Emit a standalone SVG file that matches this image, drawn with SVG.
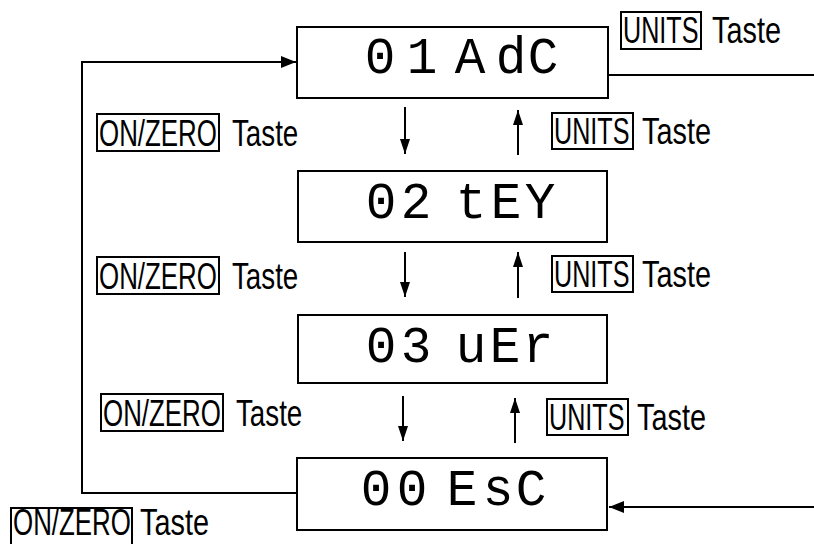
<svg xmlns="http://www.w3.org/2000/svg" width="814" height="544" viewBox="0 0 814 544">
<style>
.box{fill:#fff;stroke:#000;stroke-width:2}
.seg{font-family:"Liberation Mono","DejaVu Sans Mono",monospace;font-size:51px;fill:#000;text-anchor:middle}
.key{fill:none;stroke:#000;stroke-width:2}
.lbl{font-family:"Liberation Sans",Arial,sans-serif;font-size:37px;fill:#000}
.con{fill:none;stroke:#000;stroke-width:2}
</style>
<defs>
<marker id="ah" markerUnits="userSpaceOnUse" markerWidth="16" markerHeight="14" viewBox="0 0 16 14" refX="15" refY="7" orient="auto">
<path d="M0 1 L15 7 L0 13 Z" fill="#000"/>
</marker>
<marker id="as" markerUnits="userSpaceOnUse" markerWidth="16" markerHeight="12" viewBox="0 0 16 12" refX="15" refY="6" orient="auto">
<path d="M0 1 L15 6 L0 11 Z" fill="#000"/>
</marker>
</defs>
<rect width="814" height="544" fill="#fff"/>
<g id="connectors">
<path class="con" d="M297 493 L82 493 L82 62 L296 62" marker-end="url(#ah)"/>
<path class="con" d="M608 75 L814 75"/>
<path class="con" d="M814 507 L609 507" marker-end="url(#ah)"/>
<path class="con" d="M405 107 L405 154" marker-end="url(#as)"/>
<path class="con" d="M518 155 L518 110" marker-end="url(#as)"/>
<path class="con" d="M405 252 L405 297" marker-end="url(#as)"/>
<path class="con" d="M518 298 L518 252" marker-end="url(#as)"/>
<path class="con" d="M403 396 L403 441" marker-end="url(#as)"/>
<path class="con" d="M515 443 L515 398" marker-end="url(#as)"/>
</g>
<g id="node-01">
<rect class="box" x="297" y="27" width="311" height="71"/>
<text class="seg" x="380 422 445 470 511 543" y="73">01 AdC</text>
</g>
<g id="node-02">
<rect class="box" x="298" y="171" width="309" height="71"/>
<text class="seg" x="381 416 445 471 506 540" y="218">02 tEY</text>
</g>
<g id="node-03">
<rect class="box" x="298" y="315" width="309" height="68"/>
<text class="seg" x="381 416 445 471 505 538" y="362">03 uEr</text>
</g>
<g id="node-00">
<rect class="box" x="297" y="458" width="310" height="72"/>
<text class="seg" x="376 412 437 462 498 531" y="505">00 EsC</text>
</g>
<g id="label-units-top">
<rect class="key" x="621" y="12" width="80" height="37"/>
<text class="lbl" transform="translate(623 43) scale(0.68 1)">UNITS</text>
<text class="lbl" transform="translate(712 43) scale(0.78 1)">Taste</text>
</g>
<g id="label-onzero-1">
<rect class="key" x="97" y="114" width="122" height="37"/>
<text class="lbl" transform="translate(99 146) scale(0.7 1)">ON/ZERO</text>
<text class="lbl" transform="translate(232 146) scale(0.75 1)">Taste</text>
</g>
<g id="label-units-1">
<rect class="key" x="552" y="113" width="81" height="36"/>
<text class="lbl" transform="translate(554 144) scale(0.68 1)">UNITS</text>
<text class="lbl" transform="translate(642 144) scale(0.78 1)">Taste</text>
</g>
<g id="label-onzero-2">
<rect class="key" x="97" y="257" width="122" height="37"/>
<text class="lbl" transform="translate(99 289) scale(0.7 1)">ON/ZERO</text>
<text class="lbl" transform="translate(232 289) scale(0.75 1)">Taste</text>
</g>
<g id="label-units-2">
<rect class="key" x="552" y="256" width="81" height="36"/>
<text class="lbl" transform="translate(554 287) scale(0.68 1)">UNITS</text>
<text class="lbl" transform="translate(642 287) scale(0.78 1)">Taste</text>
</g>
<g id="label-onzero-3">
<rect class="key" x="101" y="394" width="122" height="37"/>
<text class="lbl" transform="translate(103 426) scale(0.7 1)">ON/ZERO</text>
<text class="lbl" transform="translate(236 426) scale(0.75 1)">Taste</text>
</g>
<g id="label-units-3">
<rect class="key" x="547" y="399" width="81" height="36"/>
<text class="lbl" transform="translate(549 430) scale(0.68 1)">UNITS</text>
<text class="lbl" transform="translate(637 430) scale(0.78 1)">Taste</text>
</g>
<g id="label-onzero-bottom">
<rect class="key" x="11" y="508" width="121" height="42"/>
<text class="lbl" transform="translate(13 535) scale(0.7 1)">ON/ZERO</text>
<text class="lbl" transform="translate(140 535) scale(0.78 1)">Taste</text>
</g>
</svg>
